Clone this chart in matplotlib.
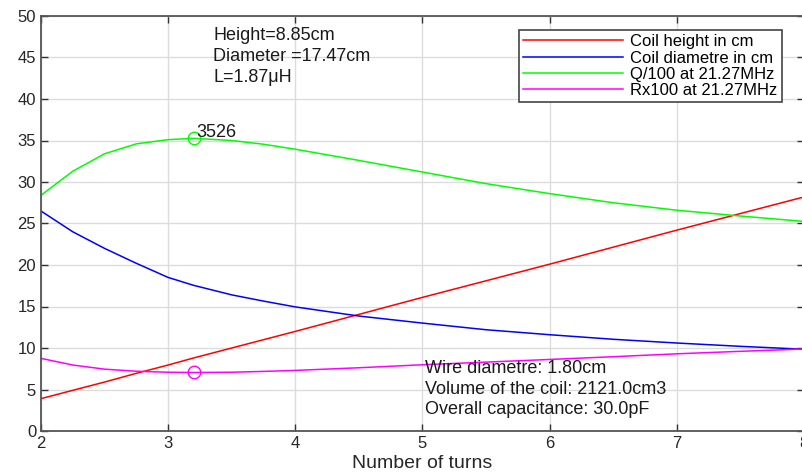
import matplotlib
matplotlib.use('Agg')
import matplotlib.pyplot as plt

plt.rcParams['font.family'] = ['Liberation Sans', 'DejaVu Sans']

# number of turns
turns = [2, 2.25, 2.5, 2.75, 3, 3.2, 3.5, 3.75, 4, 4.5, 5, 5.5, 6, 6.5, 7, 7.5, 8]
height = [3.9, 4.9, 5.9, 6.95, 7.95, 8.8, 10.0, 11.0, 12.0, 14.05, 16.1, 18.1,
          20.1, 22.15, 24.2, 26.2, 28.2]
diameter = [26.5, 24.0, 22.0, 20.2, 18.5, 17.55, 16.4, 15.65, 14.95, 13.85, 13.0,
            12.2, 11.6, 11.05, 10.6, 10.2, 9.85]
q100 = [28.4, 31.3, 33.4, 34.6, 35.1, 35.26, 35.0, 34.55, 33.95, 32.6, 31.2,
        29.8, 28.6, 27.5, 26.6, 25.9, 25.25]
rx100 = [8.75, 7.95, 7.45, 7.2, 7.08, 7.05, 7.08, 7.18, 7.3, 7.62, 7.98, 8.3,
         8.62, 8.95, 9.3, 9.6, 9.88]

best_n = 3.2
best_q = 35.26
best_r = 7.05
info_top = ['Height=8.85cm', 'Diameter =17.47cm', 'L=1.87\u03bcH']
info_bottom = ['Wire diametre: 1.80cm', 'Volume of the coil: 2121.0cm3',
               'Overall capacitance: 30.0pF']
labels = ['Coil height in cm', 'Coil diametre in cm', 'Q/100 at 21.27MHz',
          'Rx100 at 21.27MHz']

fig = plt.figure(figsize=(8.02, 4.72), dpi=100)
ax = fig.add_axes([41/802, 1 - 431/472, 763/802, 415/472])

ax.plot(turns, height, color='#ff0000', lw=1.1, label=labels[0])
ax.plot(turns, diameter, color='#0000ff', lw=1.1, label=labels[1])
ax.plot(turns, q100, color='#00ff00', lw=1.1, label=labels[2])
ax.plot(turns, rx100, color='#ff00ff', lw=1.1, label=labels[3])

ax.plot([best_n], [best_q], 'o', mfc='none', mec='#00ff00', ms=9, mew=1)
ax.plot([best_n], [best_r], 'o', mfc='none', mec='#ff00ff', ms=9, mew=1)
ax.text(best_n + 0.02, best_q + 0.7, '%d' % round(best_q * 100), fontsize=13,
        va='center', ha='left', color='#1a1a1a')

for i, s in enumerate(info_top):
    ax.text(3.354, 47.7 - i * 2.53, s, fontsize=13, va='center', ha='left',
            color='#1a1a1a')
for i, s in enumerate(info_bottom):
    ax.text(5.016, 7.47 - i * 2.41, s, fontsize=13, va='center', ha='left',
            color='#1a1a1a')

ax.set_xlim(2, 8)
ax.set_ylim(0, 50)
ax.set_xticks(range(2, 9))
ax.set_yticks(range(0, 51, 5))
ax.grid(True, color='#dcdcdc', lw=1)
ax.set_axisbelow(True)
ax.tick_params(direction='in', top=True, right=True, length=5, width=1,
               colors='#333333', labelsize=12, labelcolor='#262626')
for sp in ax.spines.values():
    sp.set_color('#555555')
    sp.set_linewidth(1.3)
ax.set_xlabel('Number of turns', fontsize=14, color='#262626', labelpad=3)

leg = ax.legend(loc='upper right', bbox_to_anchor=(0.971, 0.966), borderaxespad=0,
                fontsize=12, handlelength=6.0, labelspacing=0.08, fancybox=False,
                edgecolor='#444444', framealpha=1, borderpad=0.25, handletextpad=0.45)
leg.get_frame().set_linewidth(1.2)

fig.savefig('out.png', dpi=100)
